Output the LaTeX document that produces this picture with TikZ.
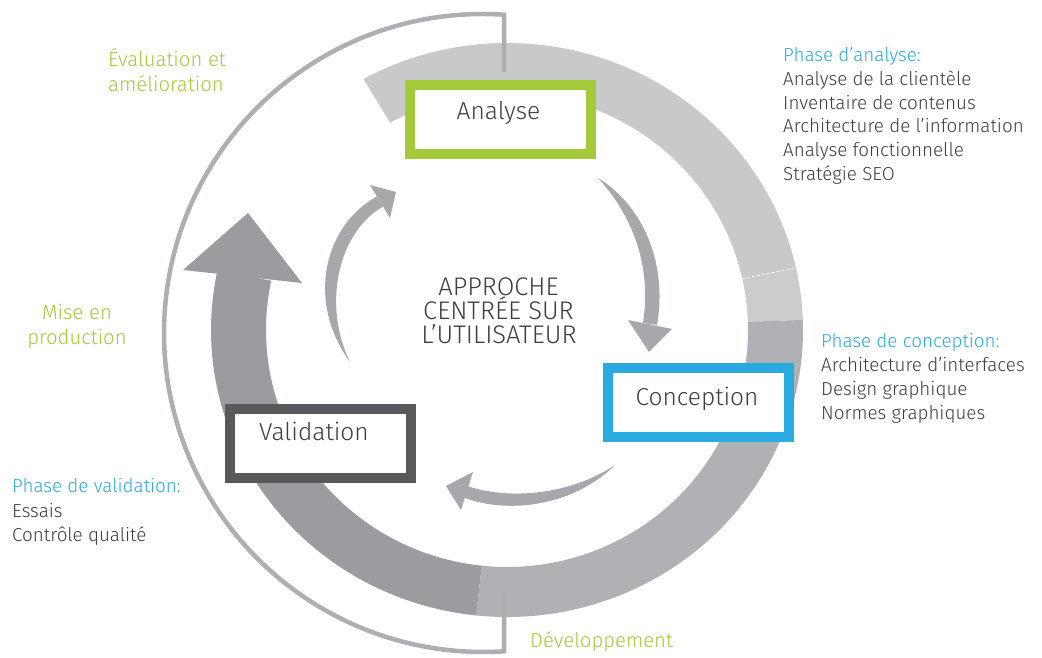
\documentclass[tikz,border=0pt]{standalone}
\usepackage{fontspec}
\IfFontExistsTF{Fira Sans Light}{\setmainfont{Fira Sans Light}}{\setmainfont{Fira Sans}}
\usetikzlibrary{calc}
\definecolor{ringA}{HTML}{C8C9CB}
\definecolor{ringB}{HTML}{CBCCCE}
\definecolor{ringC}{HTML}{B0B1B4}
\definecolor{ringD}{HTML}{9B9CA0}
\definecolor{thinc}{HTML}{AEAFB2}
\definecolor{arrowc}{HTML}{A7A8AB}
\definecolor{gr}{HTML}{A5CA39}
\definecolor{bl}{HTML}{29ABE2}
\definecolor{dk}{HTML}{58595B}
\definecolor{txt}{HTML}{3D3D3F}
\newcommand\ringseg[3]{\fill[#3] ($(C)+(#1:296 and 287)$) arc[start angle=#1,end angle=#2,x radius=296,y radius=287] -- ($(C)+(#2:241 and 237)$) arc[start angle=#2,end angle=#1,x radius=241,y radius=237] -- cycle;}
\tikzset{
  stagebox/.style={draw=#1, line width=10pt, fill=white, minimum width=181pt, minimum height=69pt, inner sep=0pt},
  stagetxt/.style={anchor=base, text=txt, font=\fontsize{24.5}{28}\selectfont, inner sep=0pt},
  sidetxt/.style={anchor=base west, text=txt, font=\fontsize{18.8}{24}\selectfont, inner sep=0pt},
  headtxt/.style={sidetxt, text=bl},
  greentxt/.style={anchor=base west, text=gr, font=\fontsize{20.3}{24}\selectfont, inner sep=0pt},
  centtxt/.style={anchor=base, text=txt, font=\fontsize{25.5}{26}\selectfont, inner sep=0pt},
  thinline/.style={draw=thinc, line width=4.5pt},
  innerarrow/.style={fill=arrowc},
}
\begin{document}
\begin{tikzpicture}[x=1pt,y=1pt]
\useasboundingbox (0,0) rectangle (1042,658);
\fill[white] (0,0) rectangle (1042,658);
% main ring
\coordinate (C) at (507,328);
\ringseg{119}{12.5}{ringA}
\ringseg{12.5}{2}{ringB}
\ringseg{2}{-96}{ringC}
\ringseg{-96}{-192}{ringD}
\fill[ringD] (183,388) -- (248,445) -- (302,375) -- cycle;
\draw[white, line width=0.8pt, dash pattern=on 3pt off 2pt] ($(C)+(12.5:241 and 237)$) -- ($(C)+(12.5:296 and 287)$);
% thin outer circle
\coordinate (tcTop) at (504,586);
\coordinate (tcJa) at ($(483,325)+(86.2:319)$);
\coordinate (tcBot) at (504,66);
\draw[thinline] (tcTop) -- (tcJa) arc[start angle=86.2,end angle=273.8,radius=319] -- (tcBot);
\begin{scope}[shift={(0,658)}, yscale=-1]
% inner arrows
\fill[innerarrow] (376.9,196.4) .. controls (325,225) and (305,300) .. (350,362) .. controls (322,305) and (338,232) .. (383.1,206.6) -- cycle;
\fill[innerarrow] (370,185) -- (396,192) -- (390,218) -- cycle;
\fill[innerarrow] (598,178) .. controls (642,205) and (668,262) .. (657,325) -- (643,323) .. controls (652,265) and (632,215) .. (598,178) -- cycle;
\fill[innerarrow] (628,320) -- (672,329) -- (649,352) -- cycle;
\fill[innerarrow] (463.8,497.6) .. controls (510,515) and (575,505) .. (615,465) .. controls (570,495) and (510,500) .. (468.2,486.4) -- cycle;
\fill[innerarrow] (473,472) -- (446,486) -- (461,510) -- cycle;
% boxes
\node[stagebox=gr] (anaBox) at (500.5,119.5) {};
\node[stagetxt] (anaTxt) at (498.5,120) {Analyse};
\node[stagebox=bl] (conBox) at (698,403) {};
\node[stagetxt] (conTxt) at (697,406) {Conception};
\node[stagebox=dk] (valBox) at (320,443.5) {};
\node[stagetxt] (valTxt) at (314,441) {Validation};
% centre
\node[centtxt] (ct1) at (498.5,296) {APPROCHE};
\node[centtxt] (ct2) at (498.5,320) {CENTRÉE SUR};
\node[centtxt] (ct3) at (499,344) {L’UTILISATEUR};
% green labels
\node[greentxt] (ev1) at (108,67) {Évaluation et};
\node[greentxt] (ev2) at (108,92) {amélioration};
\node[greentxt, anchor=base] (mp1) at (77,320) {Mise en};
\node[greentxt, anchor=base] (mp2) at (77,345) {production};
\node[greentxt] (dev) at (530,648) {Développement};
% side lists
\node[headtxt] (phA) at (783,61.7) {Phase d’analyse:};
\foreach \t [count=\i] in {Analyse de la clientèle, Inventaire de contenus, Architecture de l’information, Analyse fonctionnelle, Stratégie SEO}
  \node[sidetxt] (phA\i) at (783,{61.7+23.7*\i}) {\t};
\node[headtxt] (phC) at (821,348) {Phase de conception:};
\foreach \t [count=\i] in {Architecture d’interfaces, Design graphique, Normes graphiques}
  \node[sidetxt] (phC\i) at (821,{348+24*\i}) {\t};
\node[headtxt] (phV) at (12,493) {Phase de validation:};
\foreach \t [count=\i] in {Essais, Contrôle qualité}
  \node[sidetxt] (phV\i) at (12,{493+24.5*\i}) {\t};
\end{scope}
\end{tikzpicture}
\end{document}
